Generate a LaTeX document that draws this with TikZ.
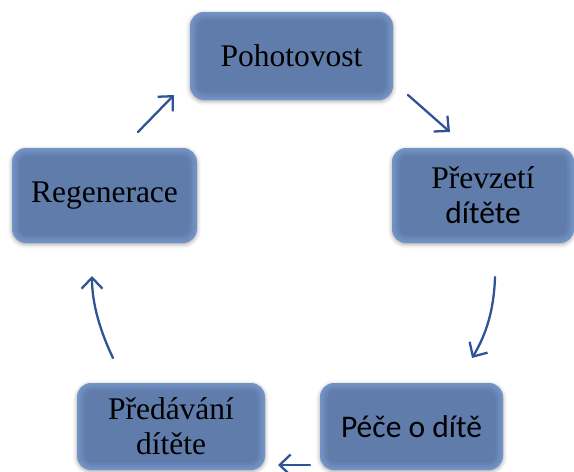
\documentclass[tikz,border=0pt]{standalone}
\usepackage{fontspec}
\setmainfont{Liberation Serif}
\newfontfamily\calib{Carlito}
\usetikzlibrary{arrows.meta,shadows.blur}
\definecolor{boxouter}{RGB}{114,146,196}
\definecolor{boxmidA}{RGB}{108,139,188}
\definecolor{boxmidB}{RGB}{101,131,178}
\definecolor{boxinner}{RGB}{95,124,170}
\definecolor{arrowblue}{RGB}{47,84,150}
\tikzset{
  stagebox/.style={rounded corners=14pt, fill=boxouter, draw=none,
    blur shadow={shadow xshift=0pt, shadow yshift=-1.5pt, shadow blur radius=4pt, shadow opacity=35},
    inner sep=0pt, align=center, text=black,
    font=\fontsize{31.5}{35}\selectfont,
    path picture={
      \fill[boxmidA, rounded corners=12pt] ([shift={(2.5pt,-2.5pt)}]path picture bounding box.north west) rectangle ([shift={(-2.5pt,2.5pt)}]path picture bounding box.south east);
      \fill[boxmidB, rounded corners=10pt] ([shift={(5pt,-5pt)}]path picture bounding box.north west) rectangle ([shift={(-5pt,5pt)}]path picture bounding box.south east);
      \fill[boxinner, rounded corners=8pt] ([shift={(7.5pt,-7.5pt)}]path picture bounding box.north west) rectangle ([shift={(-7.5pt,7.5pt)}]path picture bounding box.south east);
    }},
  cyclearrow/.style={draw=arrowblue, line width=2.3pt, line cap=round,
    -{Straight Barb[length=11pt,width=21pt,line width=2.3pt]}}
}
\begin{document}
\begin{tikzpicture}[x=1pt,y=-1pt]
\useasboundingbox (0,0) rectangle (574,472);
\node[stagebox, minimum width=203pt, minimum height=88pt] (A) at (291.5,56) {Pohotovost};
\node[stagebox, minimum width=182pt, minimum height=95pt] (B) at (483,195.5) {Převzetí\\{\calib dítěte}};
\node[stagebox, minimum width=183pt, minimum height=87pt] (C) at (411.5,426.5) {\calib Péče o dítě};
\node[stagebox, minimum width=188pt, minimum height=87pt] (D) at (171,426.5) {Předávání\\dítěte};
\node[stagebox, minimum width=185pt, minimum height=95pt] (E) at (104.5,195.5) {Regenerace};
\coordinate (ab1) at (408,95);
\coordinate (ab2) at (450,132);
\coordinate (bc1) at (495,277);
\coordinate (bc2) at (472,358);
\coordinate (cd1) at (310,465);
\coordinate (cd2) at (278,465);
\coordinate (de1) at (113,358);
\coordinate (de2) at (92,276);
\coordinate (ea1) at (138,132);
\coordinate (ea2) at (174,95);
\draw[cyclearrow] (ab1) -- (ab2);
\draw[cyclearrow] (bc1) .. controls (494,310) and (486,335) .. (bc2);
\draw[cyclearrow] (cd1) -- (cd2);
\draw[cyclearrow] (de1) .. controls (101,333) and (92,305) .. (de2);
\draw[cyclearrow] (ea1) -- (ea2);
\end{tikzpicture}
\end{document}
